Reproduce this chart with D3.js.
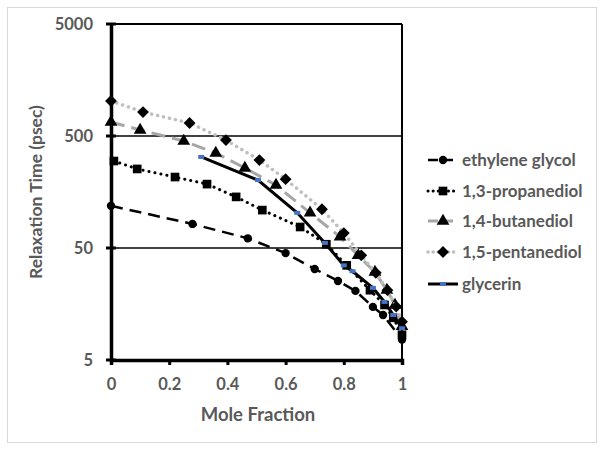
<!DOCTYPE html>
<html><head><meta charset="utf-8">
<script src="https://cdn.jsdelivr.net/npm/d3@7"></script>
<style>body{margin:0;background:#fff}svg{display:block}</style>
</head><body><svg id="c" width="604" height="450"></svg>
<script>
const seriesNames = ["ethylene glycol","1,3-propanediol","1,4-butanediol","1,5-pentanediol","glycerin"];
const egX = [0,0.28,0.47,0.60,0.70,0.78,0.84,0.90,0.935,1.0];
const egY = [119,82,61,45,32.5,25.4,20.7,14.9,12.6,7.6];
const pdX = [0.01,0.09,0.22,0.33,0.43,0.52,0.65,0.74,0.81,0.89,0.94,0.97,1.0];
const pdY = [299,254,215,186,143,109,77,54,35,21,15.5,11.9,8.4];
const bdX = [0,0.1,0.25,0.36,0.46,0.567,0.684,0.787,0.849,0.907,0.948,0.976,1.0];
const bdY = [667,566,451,352,259,182,103,63,43,30.5,21,15.5,10];
const ptX = [0,0.11,0.27,0.395,0.51,0.60,0.725,0.80,0.86,0.91,0.95,0.98,1.0];
const ptY = [1027,818,653,460,305,206,111,68,43,30,21,15,11];
const glX = [0.31,0.505,0.64,0.735,0.80,0.83,0.90,0.94,0.97,1.0];
const glY = [325,202,103,55.5,35,31,22,16.5,12.6,9.6];
const xTicks = [0,0.2,0.4,0.6,0.8,1];
const yTicks = [5,50,500,5000];

const svg = d3.select("#c");
const L=111,R=402,T=24,B=360;
const x = d3.scaleLinear().domain([0,1]).range([L,R]);
const y = d3.scaleLog().domain([5,5000]).range([B,T]);
const gray="#595959";
const font="Lato, 'Open Sans', sans-serif";

svg.append("rect").attr("x",7.5).attr("y",7.5).attr("width",589).attr("height",435)
  .attr("fill","#fff").attr("stroke","#d9d9d9").attr("stroke-width",1);

svg.append("line").attr("x1",L).attr("x2",R).attr("y1",y(5000)).attr("y2",y(5000)).attr("stroke","#000").attr("stroke-width",2);
svg.append("line").attr("x1",R).attr("x2",R).attr("y1",T).attr("y2",B).attr("stroke","#000").attr("stroke-width",2);
[50,500].forEach(v=>svg.append("line").attr("x1",L).attr("x2",R).attr("y1",y(v)).attr("y2",y(v)).attr("stroke","#000").attr("stroke-width",1.5));

const yAxis = d3.axisLeft(y).tickValues(yTicks).tickFormat(d3.format("d")).tickSize(0).tickPadding(18);
const gy = svg.append("g").attr("transform",`translate(${L},0)`).call(yAxis);
gy.select(".domain").attr("stroke","#000").attr("stroke-width",3.5);
gy.selectAll("text").attr("fill",gray).attr("font-family",font).attr("font-weight","bold").attr("font-size",16.5);
yTicks.forEach(v=>svg.append("line").attr("x1",L-5).attr("x2",L+5).attr("y1",y(v)).attr("y2",y(v)).attr("stroke","#000").attr("stroke-width",3));

const xAxis = d3.axisBottom(x).tickValues(xTicks).tickFormat(d=>d).tickSize(5).tickPadding(13);
const gx = svg.append("g").attr("transform",`translate(0,${B})`).call(xAxis);
gx.select(".domain").attr("stroke","#000").attr("stroke-width",3.5);
gx.selectAll(".tick line").attr("stroke","#000").attr("stroke-width",3);
gx.selectAll("text").attr("fill",gray).attr("font-family",font).attr("font-weight","bold").attr("font-size",16.5);

svg.append("text").attr("x",258).attr("y",421).attr("text-anchor","middle").attr("fill",gray)
  .attr("font-family",font).attr("font-weight","bold").attr("font-size",18.5).text("Mole Fraction");
svg.append("text").attr("transform","translate(42,192) rotate(-90)").attr("text-anchor","middle").attr("fill",gray)
  .attr("font-family",font).attr("font-weight","bold").attr("font-size",17.5).text("Relaxation Time (psec)");

const series = [
  {name:seriesNames[0],xs:egX,ys:egY,color:"#000",dash:"12,7",cap:"butt",w:2.5,m:"circle"},
  {name:seriesNames[1],xs:pdX,ys:pdY,color:"#000",dash:"0.1,6",cap:"round",w:3,m:"square"},
  {name:seriesNames[2],xs:bdX,ys:bdY,color:"#a6a6a6",dash:"14,7",cap:"butt",w:3,m:"triangle"},
  {name:seriesNames[3],xs:ptX,ys:ptY,color:"#bfbfbf",dash:"0.1,6",cap:"round",w:3.5,m:"diamond"},
  {name:seriesNames[4],xs:glX,ys:glY,color:"#000",dash:null,cap:"butt",w:3,m:"blue"}
];
const symMap = {circle:[d3.symbolCircle,55],square:[d3.symbolSquare,75],triangle:[d3.symbolTriangle,70],diamond:[d3.symbolSquare,70]};
const line = d3.line().x(d=>x(d[0])).y(d=>y(d[1]));

function marker(g,type,cx,cy){
  if(type==="blue"){
    g.append("rect").attr("x",cx-3).attr("y",cy-2).attr("width",6).attr("height",4).attr("fill","#4472c4");
  } else {
    const [s,sz]=symMap[type];
    g.append("path").attr("d",d3.symbol().type(s).size(sz)())
      .attr("transform",`translate(${cx},${cy})`+(type==="diamond"?" rotate(45)":"")).attr("fill","#000");
  }
}

series.forEach(s=>{
  const pts = s.xs.map((v,i)=>[v,s.ys[i]]);
  const p = svg.append("path").attr("d",line(pts)).attr("fill","none").attr("stroke",s.color)
    .attr("stroke-width",s.w).attr("stroke-linecap",s.cap);
  if(s.dash) p.attr("stroke-dasharray",s.dash);
  const g = svg.append("g");
  pts.forEach(d=>marker(g,s.m,x(d[0]),y(d[1])));
});

const legY = [160,191,221,252,284];
series.forEach((s,i)=>{
  const g = svg.append("g");
  const ly = legY[i];
  const p = g.append("line").attr("x1",428).attr("x2",458).attr("y1",ly).attr("y2",ly).attr("stroke",s.color)
    .attr("stroke-width",s.w).attr("stroke-linecap",s.cap);
  if(s.dash) p.attr("stroke-dasharray",s.dash==="0.1,6"?"0.1,5":"10,5");
  marker(g,s.m,443,ly);
  g.append("text").attr("x",462).attr("y",ly+6).attr("fill",gray).attr("font-family",font)
    .attr("font-weight","bold").attr("font-size",17).text(s.name);
});
</script></body></html>
